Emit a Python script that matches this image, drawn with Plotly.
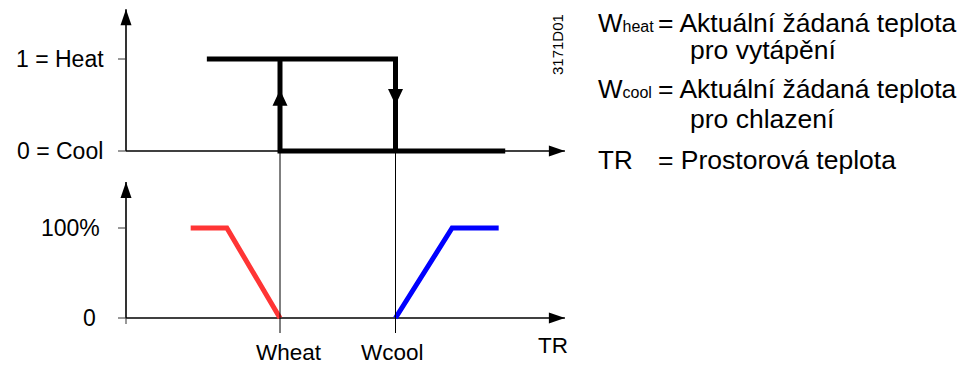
import plotly.graph_objects as go

W, H = 973, 369
FONT = "Liberation Sans, Arial, sans-serif"

# Setpoints on the room-temperature (TR) axis
W_HEAT = 4.0
W_COOL = 7.0
TR_TICKS = [W_HEAT, W_COOL]
TR_LABELS = ["Wheat", "Wcool"]

# Changeover state (1 = heat, 0 = cool), hysteresis loop
heat_state_x = [2.1, W_COOL, W_COOL]
heat_state_y = [1, 1, 0]
cool_state_x = [W_HEAT, W_HEAT, 9.85]
cool_state_y = [1, 0, 0]

# Control output in %
heat_out_x = [1.68, 2.62, W_HEAT]
heat_out_y = [100, 100, 0]
cool_out_x = [W_COOL, 8.47, 9.68]
cool_out_y = [0, 100, 100]

STATE_TICKS = [1, 0]
STATE_TEXT = ["1 = Heat", "0 = Cool"]
OUT_TICKS = [100, 0]
OUT_TEXT = ["100%", "0"]

# axis extents (arrow tips)
TR_END = 11.4
STATE_END = 1.54
OUT_END = 151

# legend lines on the right
SMALL = "<span style='font-size:16px'>{}</span>"
LEGEND = [
    ("W" + SMALL.format("heat"), "= Aktuální žádaná teplota", "pro vytápění"),
    ("W" + SMALL.format("cool"), "= Aktuální žádaná teplota", "pro chlazení"),
    ("TR", "= Prostorová teplota", None),
]

# ---- layout geometry (pixels) ----
X0, XS = 126.0, 38.5            # TR = 0 at x pixel 126, 38.5 px per unit
TOP_BASE, TOP_SCALE = 151.0, 92.0
BOT_BASE, BOT_SCALE = 318.0, 0.9

x_rng = [-0.8, 11.8]
top_rng = [-0.35, 1.62]
bot_rng = [-25, 162]


def xdom(r):
    return [(X0 + XS * r[0]) / W, (X0 + XS * r[1]) / W]


def ydom(base, scale, r):
    return [1 - (base - scale * r[0]) / H, 1 - (base - scale * r[1]) / H]


def py(p):
    return 1 - p / H


def px(p):
    return p / W


fig = go.Figure()

BLACK = "#000000"
AXW = 1.6

# axes (top: state, bottom: output)
fig.add_trace(go.Scatter(x=[0, TR_END], y=[0, 0], mode="lines",
                         line=dict(color=BLACK, width=AXW), xaxis="x", yaxis="y"))
fig.add_trace(go.Scatter(x=[0, 0], y=[0, STATE_END], mode="lines",
                         line=dict(color=BLACK, width=AXW), xaxis="x", yaxis="y"))
fig.add_trace(go.Scatter(x=[0, TR_END], y=[0, 0], mode="lines",
                         line=dict(color=BLACK, width=AXW), xaxis="x2", yaxis="y2"))
fig.add_trace(go.Scatter(x=[0, 0], y=[0, OUT_END], mode="lines",
                         line=dict(color=BLACK, width=AXW), xaxis="x2", yaxis="y2"))

# hysteresis loop
fig.add_trace(go.Scatter(x=cool_state_x, y=cool_state_y, mode="lines",
                         line=dict(color=BLACK, width=5), xaxis="x", yaxis="y"))
fig.add_trace(go.Scatter(x=heat_state_x, y=heat_state_y, mode="lines",
                         line=dict(color=BLACK, width=5), xaxis="x", yaxis="y"))

# outputs
fig.add_trace(go.Scatter(x=heat_out_x, y=heat_out_y, mode="lines",
                         line=dict(color="#ff3535", width=5), xaxis="x2", yaxis="y2"))
fig.add_trace(go.Scatter(x=cool_out_x, y=cool_out_y, mode="lines",
                         line=dict(color="#0000ff", width=5), xaxis="x2", yaxis="y2"))

shapes = []


def arrow(xref, yref, x, y, path):
    shapes.append(dict(type="path", xref=xref, yref=yref,
                       xsizemode="pixel", ysizemode="pixel",
                       xanchor=x, yanchor=y, path=path,
                       fillcolor=BLACK, line=dict(width=0), layer="above"))


RIGHT = "M0,0 L-16,5.5 L-16,-5.5 Z"
UP = "M0,0 L-5.5,-16 L5.5,-16 Z"
arrow("x", "y", TR_END, 0, RIGHT)
arrow("x", "y", 0, STATE_END, UP)
arrow("x2", "y2", TR_END, 0, RIGHT)
arrow("x2", "y2", 0, OUT_END, UP)
# direction arrows on the switching edges
arrow("x", "y", W_HEAT, 0.665, "M0,0 L-7.5,-16 L7.5,-16 Z")
arrow("x", "y", W_COOL, 0.5, "M0,0 L-7.5,16 L7.5,16 Z")

# y ticks
for xr, yr, vals in (("x", "y", STATE_TICKS), ("x2", "y2", OUT_TICKS)):
    for v in vals:
        shapes.append(dict(type="line", xref=xr, yref=yr, xsizemode="pixel",
                           xanchor=0, x0=-8, x1=0, y0=v, y1=v,
                           line=dict(color="#333333", width=1)))
# small tick below the origin of the output axis
shapes.append(dict(type="line", xref="x2", yref="y2", ysizemode="pixel",
                   yanchor=0, y0=-6, y1=0, x0=0, x1=0,
                   line=dict(color="#333333", width=1)))

# setpoint guide lines through both panels
for v in TR_TICKS:
    shapes.append(dict(type="line", xref="x2", yref="paper", x0=v, x1=v,
                       y0=py(333), y1=py(151), line=dict(color=BLACK, width=1)))

ann = []
for v, t, sh in zip(STATE_TICKS, STATE_TEXT, [-21, -22]):
    ann.append(dict(xref="x", yref="y", x=0, y=v, text=t, showarrow=False,
                    xanchor="right", yanchor="middle", xshift=sh, borderpad=0,
                    font=dict(family=FONT, size=23, color=BLACK)))
for v, t, sh in zip(OUT_TICKS, OUT_TEXT, [-25, -29]):
    ann.append(dict(xref="x2", yref="y2", x=0, y=v, text=t, showarrow=False,
                    xanchor="right", yanchor="middle", xshift=sh, borderpad=0,
                    font=dict(family=FONT, size=23, color=BLACK)))
for v, t, sh in zip(TR_TICKS, TR_LABELS, [9, -3]):
    ann.append(dict(xref="x2", yref="paper", x=v, y=py(352), text=t,
                    showarrow=False, xanchor="center", yanchor="middle",
                    xshift=sh, borderpad=0,
                    font=dict(family=FONT, size=22.5, color=BLACK)))
ann.append(dict(xref="x2", yref="paper", x=TR_END, y=py(345), text="TR",
                showarrow=False, xanchor="center", yanchor="middle", xshift=-12,
                borderpad=0, font=dict(family=FONT, size=22.5, color=BLACK)))

# drawing number
ann.append(dict(xref="paper", yref="paper", x=px(557), y=py(45), text="3171D01",
                showarrow=False, textangle=-90, borderpad=0,
                xanchor="center", yanchor="middle",
                font=dict(family=FONT, size=15, color=BLACK)))

# legend text
rows = [(23, 50), (89, 119), (160, None)]
for (sym, desc, cont), (y1, y2) in zip(LEGEND, rows):
    ann.append(dict(xref="paper", yref="paper", x=px(597), y=py(y1), text=sym,
                    showarrow=False, xanchor="left", yanchor="middle", borderpad=0,
                    font=dict(family=FONT, size=26, color=BLACK)))
    ann.append(dict(xref="paper", yref="paper", x=px(657), y=py(y1), text=desc,
                    showarrow=False, xanchor="left", yanchor="middle", borderpad=0,
                    font=dict(family=FONT, size=26.5, color=BLACK)))
    if cont:
        ann.append(dict(xref="paper", yref="paper", x=px(689), y=py(y2), text=cont,
                        showarrow=False, xanchor="left", yanchor="middle",
                        borderpad=0, font=dict(family=FONT, size=26.5, color=BLACK)))

hidden = dict(visible=False, fixedrange=True)
fig.update_layout(
    width=W, height=H, autosize=False,
    margin=dict(l=0, r=0, t=0, b=0, pad=0),
    paper_bgcolor="white", plot_bgcolor="rgba(0,0,0,0)",
    showlegend=False, hovermode=False,
    xaxis=dict(domain=xdom(x_rng), range=x_rng, anchor="y", **hidden),
    yaxis=dict(domain=ydom(TOP_BASE, TOP_SCALE, top_rng), range=top_rng,
               anchor="x", **hidden),
    xaxis2=dict(domain=xdom(x_rng), range=x_rng, anchor="y2", **hidden),
    yaxis2=dict(domain=ydom(BOT_BASE, BOT_SCALE, bot_rng), range=bot_rng,
                anchor="x2", **hidden),
    shapes=shapes,
    annotations=ann,
)

fig.write_html("out.html", config={"displayModeBar": False})
